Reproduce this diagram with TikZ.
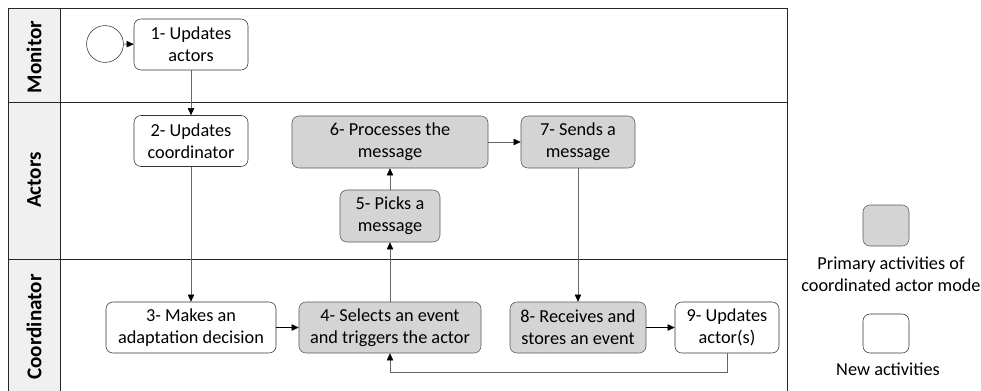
\documentclass[tikz,border=0pt]{standalone}
\usepackage{fontspec}
\setmainfont{Carlito}
\usepackage{tikz}
\usetikzlibrary{arrows.meta}

\begin{document}
\begin{tikzpicture}[x=0.025cm, y=-0.025cm,
    font=\fontsize{13}{15.5}\selectfont,
    activity/.style={draw=black!80, rounded corners=5pt, align=center, inner sep=1pt, minimum height=1.275cm},
    primary/.style={activity, fill=black!17, draw=black!65},
    lane/.style={font=\fontsize{15}{18}\selectfont\bfseries, rotate=90},
    flow/.style={draw=black!60, -{Triangle[length=5pt, width=4.5pt, black]}}]
  \useasboundingbox (0,0) rectangle (981,390);

  % pool and lanes
  \fill[black!6] (8,8) rectangle (60,392);
  \draw[black!85] (8,392) -- (8,8) -- (787,8) -- (787,392);
  \draw[black!85] (60,8) -- (60,392);
  \draw[black!85] (8,102) -- (787,102);
  \draw[black!85] (8,259) -- (787,259);
  \node[lane] (monitor) at (34,57) {Monitor};
  \node[lane] (actors) at (34,180) {Actors};
  \node[lane] (coordinator) at (34,327) {Coordinator};

  % activities
  \node[draw=black!80, circle, minimum size=0.92cm, inner sep=0pt] (start) at (105,44) {};
  \node[activity, minimum width=2.85cm] (updatesactors) at (191,44.5) {1- Updates\\actors};
  \node[activity, minimum width=2.85cm] (updatescoord) at (191,141) {2- Updates\\coordinator};
  \node[activity, minimum width=4.25cm] (decision) at (191,327.5) {3- Makes an\\adaptation decision};
  \node[primary, minimum width=4.55cm] (selects) at (390,327.5) {4- Selects an event\\and triggers the actor};
  \node[primary, minimum width=2.5cm, minimum height=1.3cm] (picks) at (390,216) {5- Picks a\\message};
  \node[primary, minimum width=4.9cm, minimum height=1.3cm] (processes) at (390,142) {6- Processes the\\message};
  \node[primary, minimum width=2.85cm, minimum height=1.3cm] (sends) at (578,142) {7- Sends a\\message};
  \node[primary, minimum width=3.4cm] (receives) at (578,327.5) {8- Receives and\\stores an event};
  \node[activity, minimum width=2.6cm] (updatesactor) at (727,327.5) {9- Updates\\actor(s)};

  \draw[flow, draw=black] (start) -- (updatesactors);
  \draw[flow] (updatesactors) -- (updatescoord);
  \draw[flow] (updatescoord) -- (decision);
  \draw[flow, draw=black] (decision) -- (selects);
  \draw[flow] (selects) -- (picks);
  \draw[flow] (picks) -- (processes);
  \draw[flow] (processes) -- (sends);
  \draw[flow] (sends) -- (receives);
  \draw[flow, draw=black] (receives) -- (updatesactor);
  \draw[flow] (updatesactor.south) -- ++(0,19) -| (selects.south);

  % legend
  \node[primary, minimum width=1.15cm, minimum height=1.025cm] (primarykey) at (886,225.5) {};
  \node[align=center] (primarytext) at (891,274) {Primary activities of\\coordinated actor mode};
  \node[activity, minimum width=1.15cm, minimum height=0.975cm] (newkey) at (886,333.5) {};
  \node (newtext) at (888,369) {New activities};
\end{tikzpicture}
\end{document}
